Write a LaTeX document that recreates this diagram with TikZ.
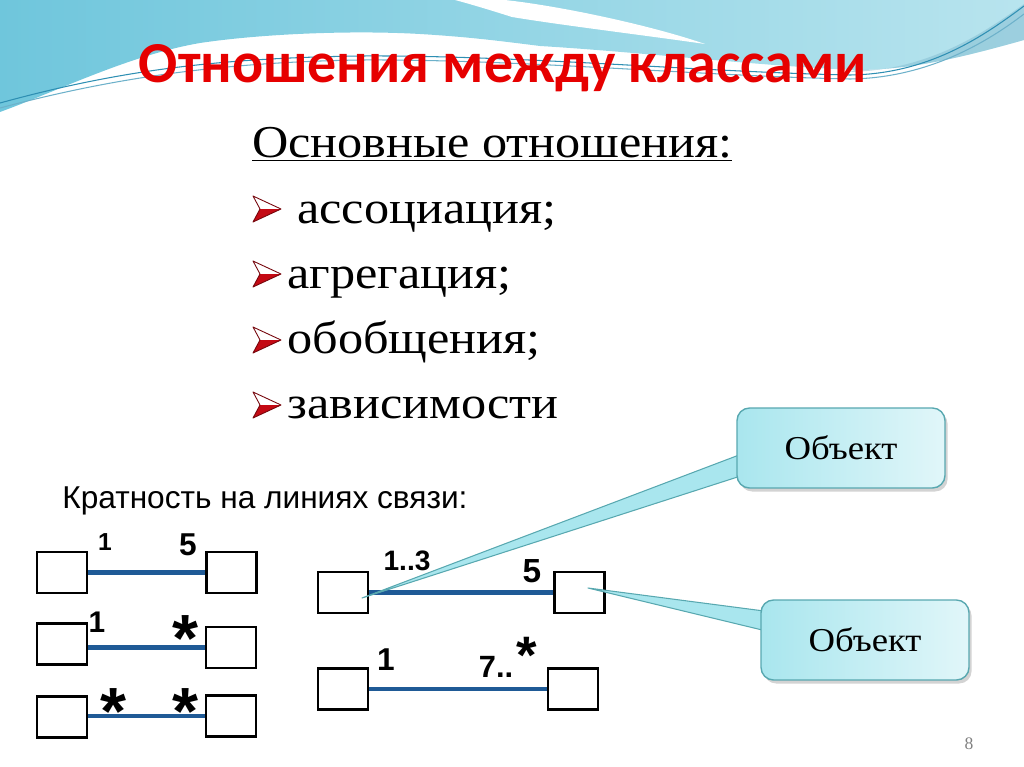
\documentclass[tikz,border=0pt]{standalone}
\usepackage{fontspec}
\setmainfont{Liberation Serif}
\setsansfont{Liberation Sans}
\newfontfamily\wideserif[FakeStretch=1.1]{Liberation Serif}
\newfontfamily\titlefont{Carlito}
\usetikzlibrary{shadows}

\definecolor{titlered}{HTML}{E60000}
\definecolor{linkblue}{HTML}{1F5A96}
\definecolor{waveblue}{HTML}{6FC6DC}
\definecolor{wavelight}{HTML}{B8E4EE}
\definecolor{waveline}{HTML}{2E8FB3}
\definecolor{calloutfill}{HTML}{A9E6EE}
\definecolor{calloutedge}{HTML}{58A8B0}
\definecolor{arrowred}{HTML}{C40A14}

\pgfdeclarelayer{front}
\pgfsetlayers{main,front}

\tikzset{
  box/.style={draw, line width=1.4pt, fill=white, minimum width=1cm, minimum height=0.82cm, inner sep=0pt},
  link/.style={draw=linkblue, line width=2.3pt},
  mult/.style={font=\sffamily\bfseries\fontsize{#1}{#1}\selectfont, inner sep=0pt, anchor=base},
  star/.style={font=\sffamily\bfseries\fontsize{#1}{#1}\selectfont, inner sep=0pt, anchor=north},
  item/.style={font=\wideserif\fontsize{26}{30}\selectfont, anchor=base west, inner sep=0pt},
  callout/.style={draw=calloutedge, line width=0.8pt, rounded corners=0.25cm,
    left color=calloutfill, right color=calloutfill!35,
    minimum width=4.16cm, minimum height=1.6cm,
    font=\wideserif\fontsize{19}{22}\selectfont,
    drop shadow={shadow xshift=1.5pt, shadow yshift=-2pt, opacity=0.35}},
  tail/.style={draw=calloutedge, line width=0.6pt, fill=calloutfill, line join=round},
}

\begin{document}
\begin{tikzpicture}[x=0.02cm, y=-0.02cm]
\useasboundingbox (0,0) rectangle (1024,767);

% Wave at the top
\shade[left color=waveblue, right color=wavelight] (0,0) -- (1024,0) -- (1024,40)
  .. controls (960,58) and (910,70) .. (855,70)
  .. controls (760,66) and (640,52) .. (540,46)
  .. controls (500,41) and (470,37) .. (420,34)
  .. controls (350,30) and (260,34) .. (200,43)
  .. controls (130,55) and (60,90) .. (0,112) -- cycle;
\fill[white] (455,0) -- (505,0) .. controls (560,6) and (650,25) .. (705,44)
  .. controls (650,36) and (560,25) .. (512,17) .. controls (490,10) and (470,4) .. (455,0) -- cycle;
\fill[waveline!60, opacity=0.5] (850,72) .. controls (930,70) and (985,32) .. (1024,4) -- (1024,40)
  .. controls (960,58) and (910,70) .. (855,70) -- cycle;
\draw[waveline, line width=0.6pt] (0,103) .. controls (120,70) and (220,58) .. (360,56)
  .. controls (520,55) and (700,72) .. (850,75) .. controls (930,74) and (985,35) .. (1024,6);
\draw[waveline!70, line width=0.6pt] (0,108) .. controls (120,76) and (230,62) .. (360,60)
  .. controls (520,59) and (700,76) .. (850,79) .. controls (930,78) and (990,40) .. (1024,14);

% Title
\node[font=\titlefont\bfseries\fontsize{33}{36}\selectfont, text=titlered, anchor=base] (title) at (503,83) {Отношения между классами};

% List
\node[item] (heading) at (252,157) {\underline{Основные отношения:}};
\node[item] (assoc) at (297,223) {ассоциация;};
\node[item] (aggr) at (287,288) {агрегация;};
\node[item] (gener) at (287,353) {обобщения;};
\node[item] (depend) at (287,418) {зависимости};
\foreach \y in {209,274,340,405} {
  \fill[white] (281,\y) -- (253,\y-13) -- (260,\y) -- cycle;
  \fill[arrowred] (281,\y) -- (260,\y) -- (253,\y+13) -- cycle;
  \draw[arrowred!60!black, line width=0.5pt, line join=round] (281,\y) -- (253,\y-13) -- (260,\y) -- (253,\y+13) -- cycle;
}

% Multiplicity
\node[font=\sffamily\fontsize{18}{20}\selectfont, anchor=base west, inner sep=0pt] (kratn) at (62,508) {Кратность на линиях связи:};

\node[box] (L1) at (62,572.5) {};
\node[box] (R1) at (231.5,572.5) {};
\draw[link] (L1.east) -- (R1.west);
\node[mult=14] (m11) at (105,550) {1};
\node[mult=18] (m12) at (188,555) {5};

\node[box] (L2) at (62,644) {};
\node[box] (R2) at (231,647.5) {};
\draw[link] (L2.east |- R2.west) -- (R2.west);
\node[mult=17] (m21) at (97,632) {1};
\node[star=38] (m22) at (185,615) {*};

\node[box] (L3) at (62,717) {};
\node[box] (R3) at (231,716) {};
\draw[link] (L3.east |- R3.west) -- (R3.west);
\node[star=38] (m31) at (113,688) {*};
\node[star=38] (m32) at (185,688) {*};

\node[box] (LA) at (343,592.5) {};
\node[box] (RA) at (579.5,592.5) {};
\draw[link] (LA.east) -- (RA.west);
\node[mult=16] (mA1) at (407,570) {1..3};
\node[mult=19] (mA2) at (532,582) {5};

\node[box] (LB) at (343,689) {};
\node[box] (RB) at (573,689) {};
\draw[link] (LB.east) -- (RB.west);
\node[mult=18] (mB1) at (386,670) {1};
\node[mult=17.5] (mB2) at (496,677) {7..};
\node[star=30] (mB3) at (527,637) {*};

% Callouts
\begin{pgfonlayer}{front}
\node[callout] (objA) at (841,448) {Объект};
\node[callout] (objB) at (865,640) {Объект};
\end{pgfonlayer}
\coordinate (tipA) at (362,598);
\coordinate (tipB) at (588,588);
\filldraw[tail] ([xshift=6pt,yshift=-2.3pt]objA.west) -- (tipA) -- ([xshift=6pt,yshift=-14.8pt]objA.west);
\filldraw[tail] ([xshift=6pt,yshift=16pt]objB.west) -- (tipB) -- ([xshift=6pt,yshift=4.5pt]objB.west);

% Page number
\node[font=\fontsize{10}{12}\selectfont, text=gray] (pagenum) at (969,744) {8};

\end{tikzpicture}
\end{document}
